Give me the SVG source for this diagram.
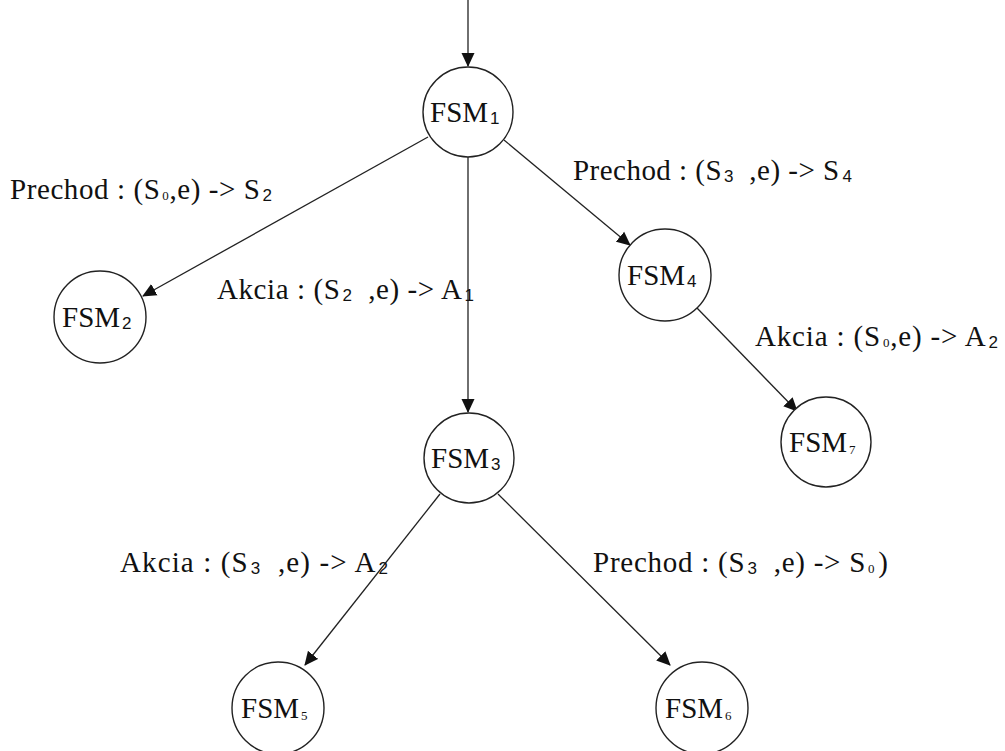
<svg xmlns="http://www.w3.org/2000/svg" width="1005" height="751" viewBox="0 0 1005 751">
<style>
.node{fill:#fff;stroke:#222;stroke-width:1.4}
.nt{font-family:"Liberation Serif",serif;font-size:29px;fill:#111}
.lb{font-family:"Liberation Serif",serif;font-size:29px;fill:#111;white-space:pre}
.sub{font-family:"Liberation Sans",sans-serif;font-size:17px}
.sub0{font-family:"Liberation Serif",serif;font-size:13px}
.edge{stroke:#222;stroke-width:1.3;fill:none;marker-end:url(#ah)}
</style>
<defs>
<marker id="ah" markerWidth="14" markerHeight="14" refX="13" refY="6.5" orient="auto" markerUnits="userSpaceOnUse" viewBox="0 0 14 13">
<path d="M0,0 L14,6.5 L0,13 z" fill="#111"/>
</marker>
</defs>
<g id="connectors">
<line class="edge" x1="468" y1="0" x2="468" y2="66"/>
<line class="edge" x1="428" y1="137" x2="143" y2="296"/>
<line class="edge" x1="468" y1="157" x2="468" y2="412"/>
<line class="edge" x1="504" y1="140" x2="630" y2="245"/>
<line class="edge" x1="697" y1="308" x2="797" y2="411"/>
<line class="edge" x1="440" y1="494" x2="305" y2="665"/>
<line class="edge" x1="498" y1="494" x2="670" y2="665"/>
</g>
<g id="labels">
<text class="lb" x="10" y="199" textLength="262" lengthAdjust="spacing" xml:space="preserve">Prechod : (S<tspan class="sub0" dx="2" dy="1">0</tspan><tspan dy="-1">,e) -&gt; S</tspan><tspan class="sub" dx="2" dy="2">2</tspan></text>
<text class="lb" x="573" y="180" textLength="279" lengthAdjust="spacing" xml:space="preserve">Prechod : (S<tspan class="sub" dx="2" dy="2">3</tspan><tspan dy="-2">  ,e) -&gt; S</tspan><tspan class="sub" dx="3" dy="2">4</tspan></text>
<text class="lb" x="217" y="299" textLength="257" lengthAdjust="spacing" xml:space="preserve">Akcia : (S<tspan class="sub" dx="2" dy="2">2</tspan><tspan dy="-2">  ,e) -&gt; A</tspan><tspan class="sub" dx="2" dy="2">1</tspan></text>
<text class="lb" x="755" y="346" textLength="243" lengthAdjust="spacing" xml:space="preserve">Akcia : (S<tspan class="sub0" dx="2" dy="1">0</tspan><tspan dy="-1">,e) -&gt; A</tspan><tspan class="sub" dx="2" dy="2">2</tspan></text>
<text class="lb" x="120" y="572" textLength="268" lengthAdjust="spacing" xml:space="preserve">Akcia : (S<tspan class="sub" dx="2" dy="2">3</tspan><tspan dy="-2">  ,e) -&gt; A</tspan><tspan class="sub" dx="2" dy="2">2</tspan></text>
<text class="lb" x="593" y="572" textLength="295" lengthAdjust="spacing" xml:space="preserve">Prechod : (S<tspan class="sub" dx="2" dy="2">3</tspan><tspan dy="-2">  ,e) -&gt; S</tspan><tspan class="sub0" dx="2" dy="1">0</tspan><tspan dx="3" dy="-1">)</tspan></text>
</g>
<g id="FSM1"><circle class="node" cx="468" cy="112" r="45"/><text class="nt" x="430" y="122">FSM<tspan class="sub" dx="2" dy="2">1</tspan></text></g>
<g id="FSM2"><circle class="node" cx="100" cy="317" r="46"/><text class="nt" x="62" y="327">FSM<tspan class="sub" dx="2" dy="2">2</tspan></text></g>
<g id="FSM3"><circle class="node" cx="469" cy="458" r="45"/><text class="nt" x="431" y="468">FSM<tspan class="sub" dx="2" dy="2">3</tspan></text></g>
<g id="FSM4"><circle class="node" cx="665" cy="275" r="46"/><text class="nt" x="627" y="285">FSM<tspan class="sub" dx="2" dy="2">4</tspan></text></g>
<g id="FSM5"><circle class="node" cx="278" cy="708" r="46"/><text class="nt" x="241" y="718">FSM<tspan class="sub0" dx="2" dy="2">5</tspan></text></g>
<g id="FSM6"><circle class="node" cx="702" cy="708" r="46"/><text class="nt" x="665" y="718">FSM<tspan class="sub0" dx="2" dy="2">6</tspan></text></g>
<g id="FSM7"><circle class="node" cx="826" cy="442" r="45"/><text class="nt" x="789" y="452">FSM<tspan class="sub0" dx="2" dy="2">7</tspan></text></g>
</svg>
